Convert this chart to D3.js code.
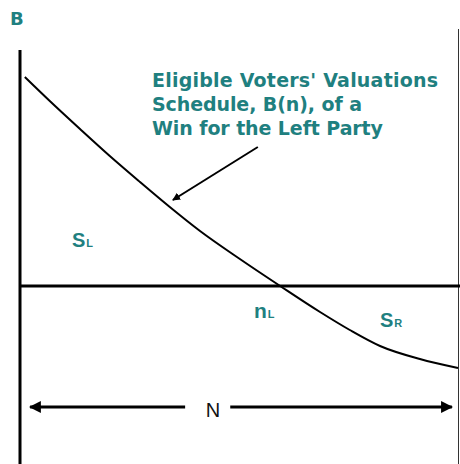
<!DOCTYPE html>
<html>
<head>
<meta charset="utf-8">
<script src="https://cdn.jsdelivr.net/npm/d3@7"></script>
<style>
  body { margin: 0; background: #fff; }
  svg { display: block; }
</style>
</head>
<body>
<svg id="chart" width="460" height="464"></svg>
<script>
// valuation schedule B(n) (n in % of N)
const nValues = [1.1, 6.8, 13.7, 20.5, 27.4, 34.2, 41.1, 50.2, 59.4, 68.5, 75.3, 82.2, 91.3, 100];
const bValues = [104.5, 92.5, 78.5, 65, 52, 39.5, 27.5, 13.5, 0, -13, -22, -30, -36.5, -41];

// pointer arrow from the caption to the curve
const pointerN = [54.3, 34.9];
const pointerB = [69.5, 43];

// N span arrow
const spanN = [2.3, 37.7, 48, 98.6];
const spanB = -60.5;

const titleLines = ["Eligible Voters' Valuations", "Schedule, B(n), of a", "Win for the Left Party"];

const teal = "#1f8080";
const svg = d3.select("#chart");

const x = d3.scaleLinear().domain([0, 100]).range([20, 458]);
const y = d3.scaleLinear().domain([0, 118]).range([286, 50]);

const defs = svg.append("defs");
defs.append("marker")
  .attr("id", "head")
  .attr("viewBox", "0 0 10 10")
  .attr("refX", 9).attr("refY", 5)
  .attr("markerWidth", 4).attr("markerHeight", 4)
  .attr("markerUnits", "strokeWidth")
  .attr("orient", "auto-start-reverse")
  .append("path")
  .attr("d", "M0,0 L10,5 L0,10 z")
  .attr("fill", "#000");

// frame
svg.append("line")
  .attr("x1", x(0)).attr("x2", x(0))
  .attr("y1", y(118)).attr("y2", 464)
  .attr("stroke", "#000").attr("stroke-width", 3);

svg.append("line")
  .attr("x1", 458.5).attr("x2", 458.5)
  .attr("y1", 29).attr("y2", 464)
  .attr("stroke", "#333").attr("stroke-width", 1);

svg.append("line")
  .attr("x1", x(0)).attr("x2", 460)
  .attr("y1", y(0)).attr("y2", y(0))
  .attr("stroke", "#000").attr("stroke-width", 3);

// curve
const pts = nValues.map((n, i) => [n, bValues[i]]);
svg.append("path")
  .datum(pts)
  .attr("fill", "none")
  .attr("stroke", "#000")
  .attr("stroke-width", 2)
  .attr("d", d3.line().x(d => x(d[0])).y(d => y(d[1])).curve(d3.curveMonotoneX));

// pointer arrow
svg.append("line")
  .attr("x1", x(pointerN[0])).attr("y1", y(pointerB[0]))
  .attr("x2", x(pointerN[1])).attr("y2", y(pointerB[1]))
  .attr("stroke", "#000").attr("stroke-width", 2)
  .attr("marker-end", "url(#head)");

// N span
svg.append("line")
  .attr("x1", x(spanN[1])).attr("x2", x(spanN[0]))
  .attr("y1", y(spanB)).attr("y2", y(spanB))
  .attr("stroke", "#000").attr("stroke-width", 3)
  .attr("marker-end", "url(#head)");
svg.append("line")
  .attr("x1", x(spanN[2])).attr("x2", x(spanN[3]))
  .attr("y1", y(spanB)).attr("y2", y(spanB))
  .attr("stroke", "#000").attr("stroke-width", 3)
  .attr("marker-end", "url(#head)");

svg.append("text")
  .attr("x", 213).attr("y", y(spanB) + 10)
  .attr("text-anchor", "middle")
  .attr("font-family", "Liberation Sans, Arial, sans-serif")
  .attr("font-size", 20)
  .attr("fill", "#111")
  .text("N");

// caption
const widths = [286, 210, 231];
svg.append("g").selectAll("text")
  .data(titleLines)
  .join("text")
  .attr("x", 152)
  .attr("y", (d, i) => 87 + i * 24)
  .attr("font-family", "DejaVu Sans, sans-serif")
  .attr("font-weight", "bold")
  .attr("font-size", 19)
  .attr("fill", teal)
  .attr("textLength", (d, i) => widths[i])
  .attr("lengthAdjust", "spacing")
  .text(d => d);

// axis label B
svg.append("text")
  .attr("x", 10).attr("y", 25)
  .attr("font-family", "DejaVu Sans, sans-serif")
  .attr("font-weight", "bold")
  .attr("font-size", 18)
  .attr("fill", teal)
  .text("B");

// area / point labels with subscripts
function label(px, py, main, sub, size) {
  const t = svg.append("text")
    .attr("x", px).attr("y", py)
    .attr("font-family", "Liberation Sans, Arial, sans-serif")
    .attr("font-weight", "bold")
    .attr("font-size", size)
    .attr("fill", teal);
  t.append("tspan").text(main);
  t.append("tspan").attr("font-size", 11).attr("dx", 1).text(sub);
}
label(72, 247, "S", "L", 20);
label(254, 318, "n", "L", 21);
label(380, 327, "S", "R", 20);
</script>
</body>
</html>
